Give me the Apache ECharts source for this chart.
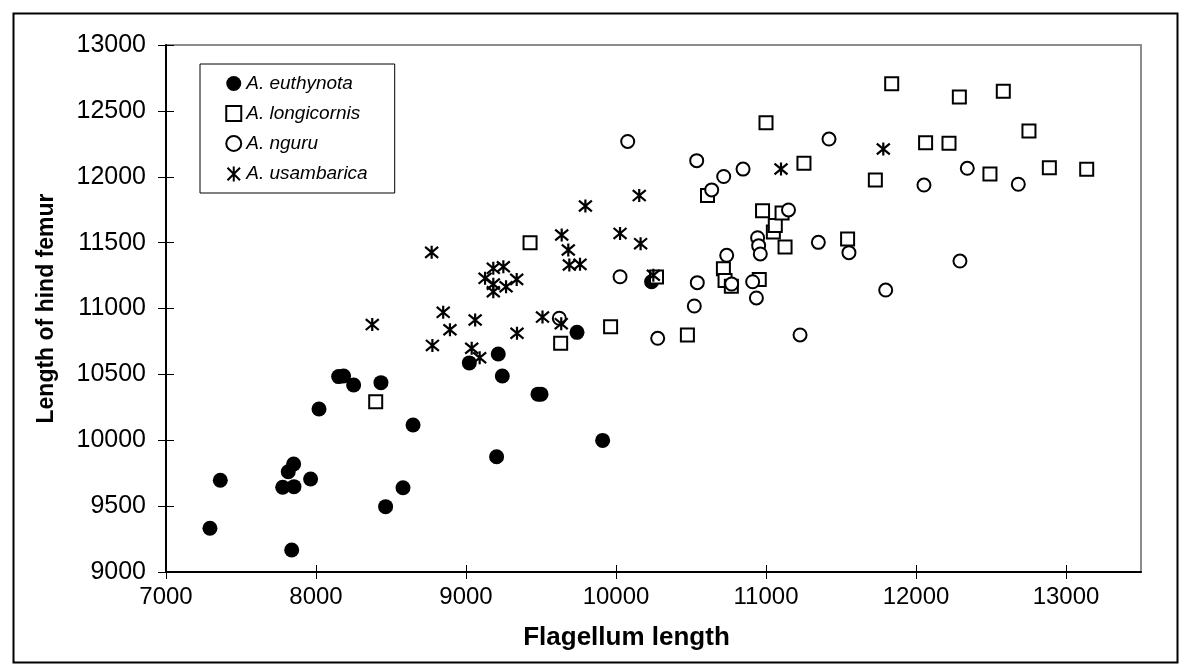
<!DOCTYPE html>
<html>
<head>
<meta charset="utf-8">
<script src="https://cdn.jsdelivr.net/npm/echarts@6/dist/echarts.min.js"></script>
<style>
html,body{margin:0;padding:0;background:#fff;}
#chart{width:1186px;height:671px;}
</style>
</head>
<body>
<div id="chart"></div>
<script>
// ---- Data ----
const seriesNames = ['A. euthynota', 'A. longicornis', 'A. nguru', 'A. usambarica'];

const euthynotaX = [7293, 7362, 7838, 7778, 7853, 7815, 7851, 7964, 8020, 8151, 8184, 8251, 8433, 8464, 8580, 8647, 9022, 9215, 9242, 9480, 9500, 9911, 9204, 9740, 10237];
const euthynotaY = [9332, 9696, 9167, 9643, 9648, 9761, 9820, 9706, 10237, 10483, 10488, 10419, 10437, 9496, 9640, 10116, 10587, 10655, 10488, 10350, 10350, 9999, 9875, 10819, 11203];

const longicornisX = [8398, 9427, 9631, 9964, 10270, 10476, 10610, 10716, 10727, 10769, 10955, 10977, 11000, 11049, 11062, 11107, 11127, 11253, 11544, 11729, 11838, 12064, 12220, 12289, 12493, 12582, 12753, 12889, 13138];
const longicornisY = [10293, 11500, 10736, 10862, 11240, 10799, 11858, 11302, 11212, 11168, 11221, 11741, 12410, 11580, 11630, 11725, 11467, 12102, 11528, 11975, 12706, 12258, 12254, 12605, 12021, 12649, 12347, 12069, 12057];

const nguruX = [9622, 10027, 10078, 10278, 10522, 10538, 10542, 10638, 10718, 10738, 10771, 10847, 10911, 10936, 10944, 10951, 10962, 11150, 11227, 11349, 11420, 11553, 11798, 12053, 12293, 12342, 12682];
const nguruY = [10926, 11241, 12268, 10774, 11019, 12122, 11196, 11900, 12002, 11404, 11186, 12058, 11203, 11080, 11537, 11477, 11414, 11748, 10799, 11502, 12286, 11424, 11140, 11937, 11360, 12064, 11943];

const usambaricaX = [8375, 8771, 8776, 8848, 8893, 9038, 9061, 9091, 9127, 9182, 9249, 9338, 9182, 9267, 9182, 9340, 9510, 9635, 9638, 9682, 9689, 9760, 9796, 10027, 10155, 10164, 10249, 11100, 11782];
const usambaricaY = [10878, 11426, 10720, 10971, 10839, 10698, 10913, 10626, 11229, 11305, 11317, 11221, 11127, 11165, 11185, 10812, 10935, 10885, 11558, 11444, 11330, 11335, 11778, 11570, 11857, 11492, 11252, 12059, 12211];

const xTicks = [7000, 8000, 9000, 10000, 11000, 12000, 13000];
const yTicks = [9000, 9500, 10000, 10500, 11000, 11500, 12000, 12500, 13000];

const xTitle = 'Flagellum length';
const yTitle = 'Length of hind femur';

// ---- Build ----
function pairs(xs, ys) { return xs.map((x, i) => [x, ys[i]]); }
const plain = v => String(v);

const asteriskPath = 'path://M0,0L10,10M10,0L0,10M5,-1L5,11';

const FONT = 'Arial, "Liberation Sans", sans-serif';

const chart = echarts.init(document.getElementById('chart'), null, { renderer: 'canvas' });

const commonX = {
  type: 'value', min: 7000, max: 13500, interval: 1000,
  splitLine: { show: false }
};
const commonY = {
  type: 'value', min: 9000, max: 13000, interval: 500,
  splitLine: { show: false }
};

const option = {
  backgroundColor: '#ffffff',
  animation: false,
  grid: {
    left: 166, top: 45, right: 45, bottom: 99,
    show: true, borderColor: '#8c8c8c', borderWidth: 2, backgroundColor: 'transparent'
  },
  graphic: [{
    type: 'rect', left: 11, top: 11,
    shape: { width: 1164, height: 649 },
    style: { fill: 'none', stroke: '#000', lineWidth: 2 }, z: 100, silent: true
  }],
  legend: {
    orient: 'vertical', left: 200, top: 64,
    padding: [10, 27, 9, 25], itemGap: 11,
    itemWidth: 15, itemHeight: 15,
    backgroundColor: '#fff', borderColor: '#000', borderWidth: 1,
    textStyle: { fontFamily: FONT, fontStyle: 'italic', fontSize: 19, color: '#000' },
    data: seriesNames
  },
  xAxis: [
    Object.assign({}, commonX, {
      name: xTitle, nameLocation: 'middle', nameGap: 53,
      nameTextStyle: { fontFamily: FONT, fontWeight: 'bold', fontSize: 26, color: '#000', padding: [0, 54, 0, 0] },
      axisLine: { show: true, onZero: false, lineStyle: { color: '#000', width: 2 } },
      axisTick: { show: true, inside: false, length: 7, lineStyle: { color: '#000', width: 1 }, customValues: xTicks },
      axisLabel: { margin: 13, fontFamily: FONT, fontSize: 24, color: '#000', customValues: xTicks, formatter: plain }
    }),
    Object.assign({}, commonX, {
      position: 'bottom',
      axisLine: { show: false },
      axisTick: { show: true, inside: true, length: 7, lineStyle: { color: '#000', width: 1 }, customValues: xTicks },
      axisLabel: { show: false }
    })
  ],
  yAxis: [
    Object.assign({}, commonY, {
      name: yTitle, nameLocation: 'middle', nameGap: 108,
      nameTextStyle: { fontFamily: FONT, fontWeight: 'bold', fontSize: 23, color: '#000' },
      axisLine: { show: true, onZero: false, lineStyle: { color: '#000', width: 2 } },
      axisTick: { show: true, inside: false, length: 8, lineStyle: { color: '#000', width: 1 }, customValues: yTicks },
      axisLabel: { margin: 20, fontFamily: FONT, fontSize: 25, color: '#000', customValues: yTicks, formatter: plain }
    }),
    Object.assign({}, commonY, {
      position: 'left',
      axisLine: { show: false },
      axisTick: { show: true, inside: true, length: 8, lineStyle: { color: '#000', width: 1 }, customValues: yTicks },
      axisLabel: { show: false }
    })
  ],
  series: [
    {
      name: seriesNames[0], type: 'scatter', data: pairs(euthynotaX, euthynotaY),
      symbol: 'circle', symbolSize: 15,
      itemStyle: { color: '#000', borderColor: '#000', borderWidth: 0, opacity: 1 }
    },
    {
      name: seriesNames[1], type: 'scatter', data: pairs(longicornisX, longicornisY),
      symbol: 'rect', symbolSize: 13,
      itemStyle: { color: '#fff', borderColor: '#000', borderWidth: 2, opacity: 1 }
    },
    {
      name: seriesNames[2], type: 'scatter', data: pairs(nguruX, nguruY),
      symbol: 'circle', symbolSize: 13,
      itemStyle: { color: '#fff', borderColor: '#000', borderWidth: 2, opacity: 1 }
    },
    {
      name: seriesNames[3], type: 'scatter', data: pairs(usambaricaX, usambaricaY),
      symbol: asteriskPath, symbolSize: 13,
      itemStyle: { color: 'none', borderColor: '#000', borderWidth: 2.2, opacity: 1 }
    }
  ]
};

chart.setOption(option);
</script>
</body>
</html>
